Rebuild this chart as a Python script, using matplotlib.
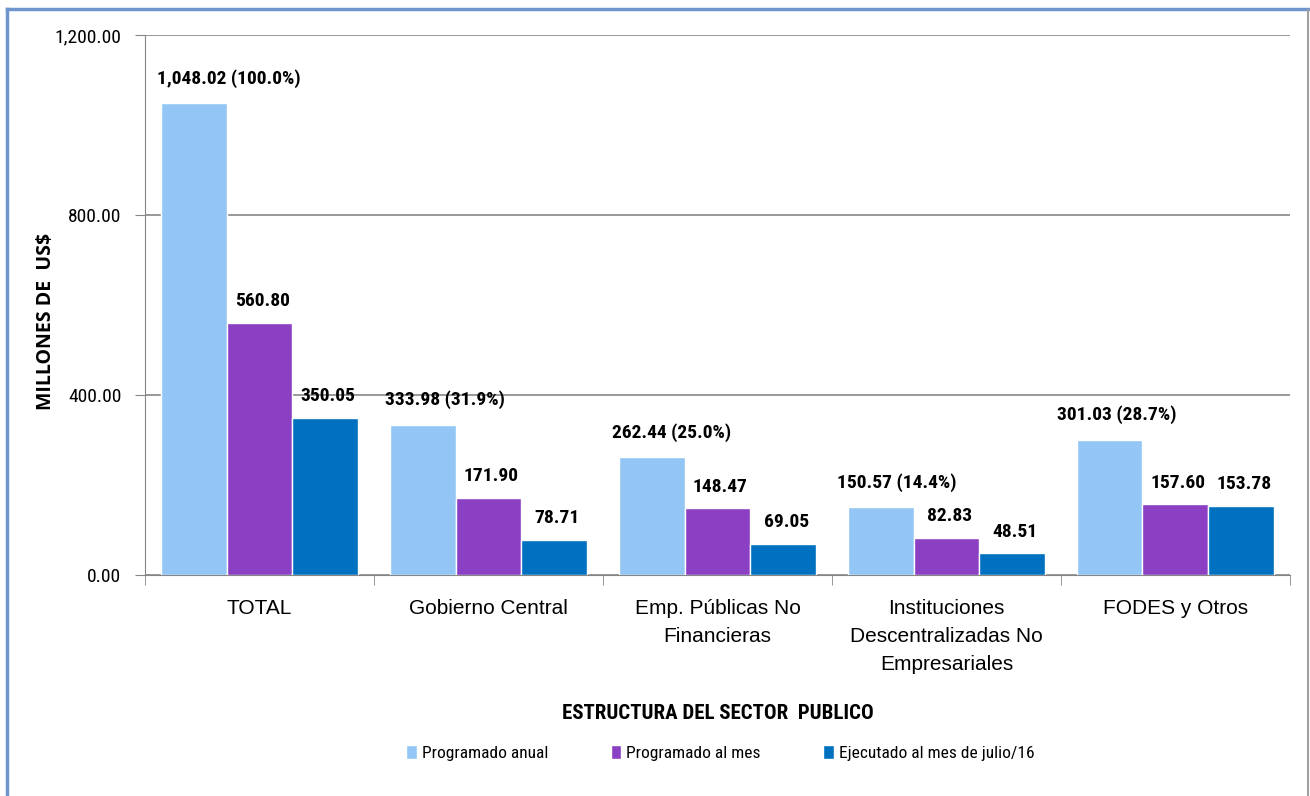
import matplotlib.pyplot as plt
import numpy as np
from matplotlib.lines import Line2D
from matplotlib import font_manager

# categories and series
categories = ["TOTAL", "Gobierno Central", "Emp. Públicas No\nFinancieras",
              "Instituciones\nDescentralizadas No\nEmpresariales", "FODES y Otros"]
prog_anual = [1048.02, 333.98, 262.44, 150.57, 301.03]
prog_anual_pct = ["100.0%", "31.9%", "25.0%", "14.4%", "28.7%"]
prog_mes = [560.80, 171.90, 148.47, 82.83, 157.60]
ejecutado = [350.05, 78.71, 69.05, 48.51, 153.78]
series_names = ["Programado anual", "Programado al mes", "Ejecutado al mes de julio/16"]
colors = ["#93C6F4", "#8B3FC2", "#0070C0"]
yticks = [0, 400, 800, 1200]


def pick_font(names):
    avail = {f.name for f in font_manager.fontManager.ttflist}
    for n in names:
        if n in avail:
            return n
    return "DejaVu Sans"


narrow = pick_font(["Liberation Sans Narrow", "Roboto Condensed", "Open Sans", "Liberation Sans"])
regular = pick_font(["Liberation Sans", "Arial", "DejaVu Sans"])

fig = plt.figure(figsize=(13.1, 7.96), dpi=100)
ax = fig.add_axes([0.1107, 0.2776, 0.874, 0.6784])

x = np.arange(len(categories))
w = 0.288
series = [prog_anual, prog_mes, ejecutado]
for i, vals in enumerate(series):
    ax.bar(x + (i - 1) * w, vals, width=w, color=colors[i], edgecolor="white",
           linewidth=1, label=series_names[i], zorder=3)

# data labels
anual_dx = [35, 22, 20, 16, 7]  # pixel shifts of the first label
for j in range(len(categories)):
    ax.annotate(f"{prog_anual[j]:,.2f} ({prog_anual_pct[j]})",
                (x[j] - w, prog_anual[j]), xytext=(anual_dx[j] * 0.72, 11),
                textcoords="offset points", ha="center", va="bottom",
                fontsize=14, fontweight="bold", family=narrow)
    for i, vals in enumerate([prog_mes, ejecutado]):
        ax.annotate(f"{vals[j]:,.2f}", (x[j] + i * w, vals[j]), xytext=(2, 9),
                    textcoords="offset points", ha="center", va="bottom",
                    fontsize=14, fontweight="bold", family=narrow)

ax.set_xlim(-0.5, len(categories) - 0.5)
ax.set_ylim(0, 1200)
ax.set_yticks(yticks)
ax.set_yticklabels([f"{v:,.2f}" for v in yticks], fontsize=14, family=narrow)
ax.set_xticks(x)
ax.set_xticklabels(categories, fontsize=15, family=regular, linespacing=1.6)
ax.set_xticks(np.arange(-0.5, len(categories), 1.0), minor=True)
ax.tick_params(axis="x", which="major", length=0, pad=17)
ax.tick_params(axis="x", which="minor", length=7, color="#868686", direction="out")
ax.tick_params(axis="y", length=7, color="#868686", pad=10)

ax.grid(axis="y", color="#868686", linewidth=1.2, zorder=0)
for s in ["top", "right"]:
    ax.spines[s].set_visible(False)
ax.spines["left"].set_color("#868686")
ax.spines["bottom"].set_color("#868686")

ax.set_ylabel("MILLONES DE  US$", fontsize=14, fontweight="bold", family="Open Sans")
ax.yaxis.set_label_coords(-0.078, 0.47)
ax.set_xlabel("ESTRUCTURA DEL SECTOR  PUBLICO", fontsize=15, fontweight="bold", family=narrow, labelpad=22)

leg = fig.legend(loc="center", bbox_to_anchor=(0.55, 0.054), ncol=3, frameon=False,
                 prop={"family": narrow, "size": 12.5}, handlelength=0.6, handleheight=0.9,
                 handletextpad=0.3, columnspacing=3.6)

# outer chart frame
fig.add_artist(Line2D([7 / 1310, 7 / 1310], [0, 1 - 9 / 796], color="#6F96CC", lw=2.5))
fig.add_artist(Line2D([7 / 1310, 1], [1 - 9 / 796, 1 - 9 / 796], color="#6F96CC", lw=2.5))
fig.add_artist(Line2D([1308 / 1310, 1308 / 1310], [0, 1 - 10 / 796], color="#A0A0A0", lw=1.5))

fig.savefig("out.png", dpi=100)
